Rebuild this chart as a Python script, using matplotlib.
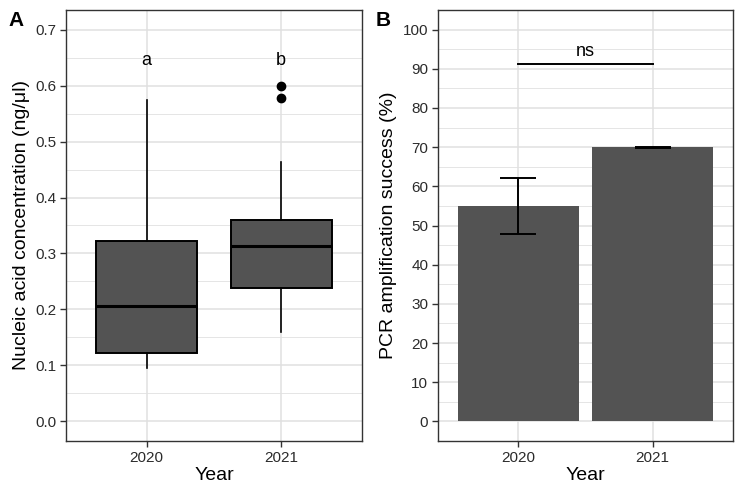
import matplotlib
matplotlib.use("Agg")
import matplotlib.pyplot as plt
from matplotlib.ticker import MultipleLocator

plt.rcParams['font.family'] = ['Liberation Sans', 'DejaVu Sans']

# Panel A: box plot summary per year
years = ["2020", "2021"]
box_q1 = [0.123, 0.239]
box_med = [0.206, 0.314]
box_q3 = [0.323, 0.360]
whisk_lo = [0.096, 0.159]
whisk_hi = [0.574, 0.463]
outliers = [[], [0.600, 0.577]]
letters = ["a", "b"]

# Panel B: PCR success
pcr_mean = [55.0, 70.0]
pcr_lo = [47.9, 69.9]
pcr_hi = [62.1, 70.1]
sig_label = "ns"
sig_y = 91.2

fill = '#535353'
grid_col = '#E0E0E0'
txt_col = '#2b2b2b'

fig = plt.figure(figsize=(7.44, 4.96), dpi=100)
axA = fig.add_axes([66 / 744, 55 / 496, 296 / 744, 431 / 496])
axB = fig.add_axes([438 / 744, 55 / 496, 295 / 744, 431 / 496])


def style(ax):
    ax.set_axisbelow(True)
    ax.grid(which='major', color=grid_col, lw=1.1)
    ax.grid(which='minor', axis='y', color=grid_col, lw=0.6)
    for s in ax.spines.values():
        s.set_color('#333333')
        s.set_linewidth(1.0)
    ax.tick_params(which='major', length=4, width=1, color='#333333',
                   labelsize=11, labelcolor=txt_col, pad=3)
    ax.tick_params(which='minor', length=0)
    ax.set_xlim(0.4, 2.6)
    ax.set_xlabel("Year", fontsize=14, labelpad=2)


pos = [1, 2]
stats = []
for i in range(len(years)):
    stats.append(dict(q1=box_q1[i], med=box_med[i], q3=box_q3[i],
                      whislo=whisk_lo[i], whishi=whisk_hi[i],
                      fliers=outliers[i], label=years[i]))
axA.bxp(stats, positions=pos, widths=0.75, patch_artist=True, showcaps=False,
        boxprops=dict(facecolor=fill, edgecolor='black', linewidth=1.4),
        medianprops=dict(color='black', linewidth=2.2),
        whiskerprops=dict(color='black', linewidth=1.2),
        flierprops=dict(marker='o', markerfacecolor='black',
                        markeredgecolor='black', markersize=6))
for p, t in zip(pos, letters):
    axA.text(p, 0.645, t, ha='center', va='center', fontsize=13)
axA.set_ylim(-0.035, 0.735)
axA.yaxis.set_major_locator(MultipleLocator(0.1))
axA.yaxis.set_minor_locator(MultipleLocator(0.05))
axA.set_yticks([0, 0.1, 0.2, 0.3, 0.4, 0.5, 0.6, 0.7])
axA.set_yticklabels(["0.0", "0.1", "0.2", "0.3", "0.4", "0.5", "0.6", "0.7"])
axA.set_xticks(pos)
axA.set_xticklabels(years)
axA.set_ylabel("Nucleic acid concentration (ng/\u03bcl)", fontsize=14, labelpad=4)
style(axA)

# Panel B
err_low = [m - l for m, l in zip(pcr_mean, pcr_lo)]
err_high = [h - m for m, h in zip(pcr_mean, pcr_hi)]
axB.bar(pos, pcr_mean, width=0.9, color=fill, zorder=2)
axB.errorbar(pos, pcr_mean, yerr=[err_low, err_high], fmt='none',
             ecolor='black', elinewidth=1.4, capsize=13, capthick=1.4, zorder=3)
axB.plot(pos, [sig_y, sig_y], color='black', lw=1.4)
axB.text(1.5, sig_y + 1.0, sig_label, ha='center', va='bottom', fontsize=13)
axB.set_ylim(-5, 105)
axB.yaxis.set_major_locator(MultipleLocator(10))
axB.yaxis.set_minor_locator(MultipleLocator(5))
axB.set_xticks(pos)
axB.set_xticklabels(years)
axB.set_ylabel("PCR amplification success (%)", fontsize=14, labelpad=4)
style(axB)

fig.text(8 / 744, 1 - 20 / 496, "A", fontsize=15, fontweight='bold', va='center')
fig.text(376 / 744, 1 - 20 / 496, "B", fontsize=15, fontweight='bold', va='center')

fig.savefig("out.png", dpi=100)
